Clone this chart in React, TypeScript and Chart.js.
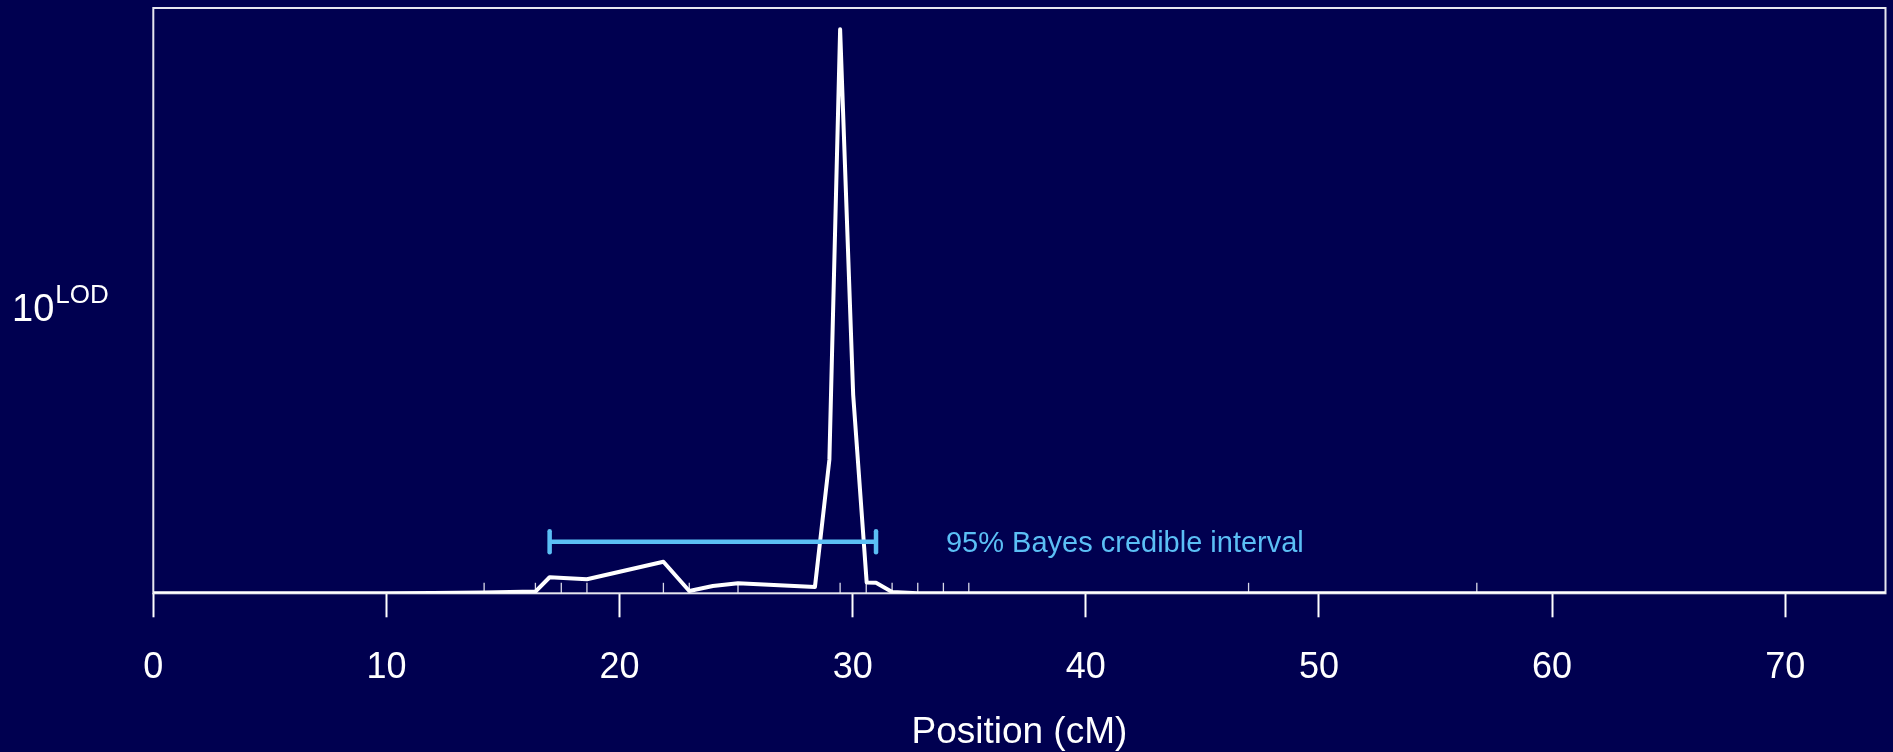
import React, { useEffect, useRef } from "react";
import { Chart, registerables } from "chart.js";

Chart.register(...registerables);

// ---- data ----
const positions = [0, 10, 12, 14.19, 16.39, 17.0, 18.6, 21.88, 22.99, 24.0, 25.08, 28.38, 29.0, 29.46, 30.02, 30.6, 31.0, 31.69, 32.79, 35.0, 47.0, 56.8, 74.3];
const lodValues = [0, 0.02, 0.05, 0.15, 0.3, 2.84, 2.48, 5.6, 0.41, 1.29, 1.77, 1.1, 23.7, 100, 35.2, 1.9, 1.85, 0.25, 0.03, 0.01, 0, 0, 0];
const markerPositions = [14.19, 16.39, 17.5, 18.6, 21.88, 22.99, 25.08, 29.46, 30.58, 31.69, 32.79, 33.89, 34.98, 46.98, 56.77];
const xTickValues = [0, 10, 20, 30, 40, 50, 60, 70];
const intervalBounds = [17.0, 31.0];
const intervalLevel = 9.15;
const intervalCapHalf = 1.86;
const intervalLabel = "95% Bayes credible interval";
const intervalLabelX = 34.0;
const yLabelBase = "10";
const yLabelSup = "LOD";
const xTitle = "Position (cM)";
const xMin = 0;
const xMax = 74.3;
const yMax = 103.78;

const BG = "#000050";
const BLUE = "#5bbff5";
const FONT = "'Liberation Sans', Arial, Helvetica, sans-serif";

export default function App() {
  const canvasRef = useRef<HTMLCanvasElement | null>(null);

  useEffect(() => {
    document.body.style.margin = "0";
    document.body.style.background = BG;
    const canvas = canvasRef.current;
    if (!canvas) return;

    const decor = {
      id: "decor",
      beforeDraw(chart: any) {
        const { ctx, width, height } = chart;
        ctx.save();
        ctx.fillStyle = BG;
        ctx.fillRect(0, 0, width, height);
        ctx.restore();
      },
      beforeDatasetsDraw(chart: any) {
        const { ctx, chartArea } = chart;
        const xs = chart.scales.x;
        ctx.save();
        // rug ticks for markers
        ctx.strokeStyle = "#d8d8e8";
        ctx.lineWidth = 1.3;
        markerPositions.forEach((m) => {
          const px = xs.getPixelForValue(m);
          ctx.beginPath();
          ctx.moveTo(px, chartArea.bottom);
          ctx.lineTo(px, chartArea.bottom - 10.5);
          ctx.stroke();
        });
        // box
        ctx.strokeStyle = "#e6e6ee";
        ctx.lineWidth = 2;
        ctx.strokeRect(chartArea.left, chartArea.top, chartArea.right - chartArea.left, chartArea.bottom - chartArea.top);
        ctx.restore();
      },
      afterDraw(chart: any) {
        const { ctx } = chart;
        const xs = chart.scales.x;
        const ys = chart.scales.y;
        ctx.save();
        // interval label
        ctx.fillStyle = BLUE;
        ctx.font = `29px ${FONT}`;
        ctx.textAlign = "left";
        ctx.textBaseline = "middle";
        ctx.fillText(intervalLabel, xs.getPixelForValue(intervalLabelX), ys.getPixelForValue(intervalLevel) + 2.5);
        // y label 10^LOD
        ctx.fillStyle = "#ffffff";
        ctx.textBaseline = "alphabetic";
        ctx.font = `38px ${FONT}`;
        ctx.fillText(yLabelBase, 12, 321);
        const w = ctx.measureText(yLabelBase).width;
        ctx.font = `26px ${FONT}`;
        ctx.fillText(yLabelSup, 12 + w + 1, 303);
        ctx.restore();
      },
    };

    const curve = positions.map((x, i) => ({ x, y: lodValues[i] }));
    const bar = intervalBounds.map((x) => ({ x, y: intervalLevel }));
    const capL = [
      { x: intervalBounds[0], y: intervalLevel - intervalCapHalf },
      { x: intervalBounds[0], y: intervalLevel + intervalCapHalf },
    ];
    const capR = [
      { x: intervalBounds[1], y: intervalLevel - intervalCapHalf },
      { x: intervalBounds[1], y: intervalLevel + intervalCapHalf },
    ];

    const chart = new Chart(canvas, {
      type: "line",
      data: {
        datasets: [
          { data: curve, borderColor: "#ffffff", borderWidth: 4, pointRadius: 0, tension: 0, order: 1, borderJoinStyle: "round" } as any,
          { data: bar, borderColor: BLUE, borderWidth: 4.5, pointRadius: 0, order: 0, borderCapStyle: "butt" } as any,
          { data: capL, borderColor: BLUE, borderWidth: 4.5, pointRadius: 0, order: 0, borderCapStyle: "round" } as any,
          { data: capR, borderColor: BLUE, borderWidth: 4.5, pointRadius: 0, order: 0, borderCapStyle: "round" } as any,
        ],
      },
      options: {
        animation: false,
        responsive: false,
        maintainAspectRatio: false,
        events: [],
        layout: { padding: { left: 153.3, right: 7.5, top: 8, bottom: 0 } },
        plugins: { legend: { display: false }, tooltip: { enabled: false } },
        scales: {
          x: {
            type: "linear",
            min: xMin,
            max: xMax,
            afterBuildTicks: (scale: any) => {
              scale.ticks = xTickValues.map((v) => ({ value: v }));
            },
            border: { display: false },
            grid: { drawOnChartArea: false, drawTicks: true, tickLength: 24, tickColor: "#ffffff", tickWidth: 2, color: "#ffffff" },
            ticks: { color: "#ffffff", font: { family: FONT, size: 36, lineHeight: 1 }, padding: 33, maxRotation: 0, autoSkip: false },
            title: { display: true, text: xTitle, color: "#ffffff", font: { family: FONT, size: 37, lineHeight: 0.5 }, padding: { top: 3.95, bottom: 10.25 } },
          },
          y: { type: "linear", display: false, min: 0, max: yMax },
        },
      },
      plugins: [decor],
    });

    return () => chart.destroy();
  }, []);

  return (
    <div style={{ position: "absolute", left: 0, top: 0, width: 1893, height: 752, background: BG }}>
      <canvas ref={canvasRef} width={1893} height={752} style={{ display: "block", width: 1893, height: 752 }} />
    </div>
  );
}
